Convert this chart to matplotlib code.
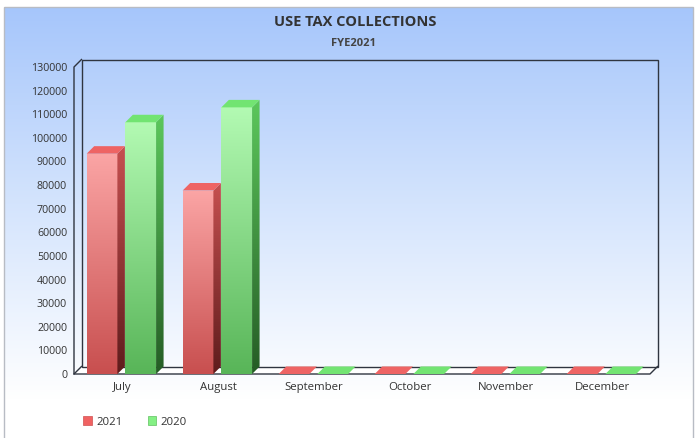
import numpy as np
import matplotlib.pyplot as plt
from matplotlib.patches import Polygon, Patch, Rectangle
from matplotlib.colors import LinearSegmentedColormap

months = ["July", "August", "September", "October", "November", "December"]
fy2021 = [93300, 77700, 0, 0, 0, 0]
fy2020 = [106600, 112900, 0, 0, 0, 0]
yticks = list(range(0, 130001, 10000))

plt.rcParams['font.family'] = ['Open Sans', 'DejaVu Sans']

W, H = 696, 438
fig = plt.figure(figsize=(W / 100, H / 100), dpi=100)

# background panel with blue -> white gradient
bg = fig.add_axes([0, 0, 1, 1], zorder=-10)
bg.set_xlim(0, W)
bg.set_ylim(H, 0)
bg.axis('off')
bgmap = LinearSegmentedColormap.from_list('bg', ['#a6c6fb', '#d4e4fd', '#ffffff'])
g = np.linspace(0, 1, 256)[:, None]
panel = Rectangle((4, 7), 689, 440, facecolor='none', edgecolor='#b8bcc4', lw=1)
bg.add_patch(panel)
im = bg.imshow(g, extent=[4, 693, 400, 7], cmap=bgmap, aspect='auto')
im.set_clip_path(panel)

fig.text(355 / W, 1 - 22 / H, "USE TAX COLLECTIONS", ha='center', va='center',
         fontsize=10.5, fontweight='bold', color='#333333')
fig.text(354 / W, 1 - 43 / H, "FYE2021", ha='center', va='center',
         fontsize=8, fontweight='bold', color='#444444')

ax = fig.add_axes([74 / W, (H - 374) / H, 576 / W, 307 / H])
ax.patch.set_alpha(0)
for s in ax.spines.values():
    s.set_visible(False)

ymax = 130000
dx = 7.5 / 96
dy = 7.5 * ymax / 307
x = np.arange(len(months))
lc = '#2f3540'

# floor + walls
ax.add_patch(Polygon([(-0.5, 0), (5.5, 0), (5.5 + dx, dy), (-0.5 + dx, dy)],
                     closed=True, facecolor='white', edgecolor='none', zorder=1, clip_on=False))
ax.add_patch(Polygon([(-0.5 + dx, dy), (5.5 + dx, dy), (5.5 + dx, ymax + dy), (-0.5 + dx, ymax + dy)],
                     closed=True, facecolor='none', edgecolor=lc, lw=1, zorder=2, clip_on=False))
ax.plot([-0.5 + dx, -0.5, -0.5, 5.5, 5.5 + dx], [ymax + dy, ymax, 0, 0, dy],
        color=lc, lw=1, zorder=2, clip_on=False)
ax.plot([-0.5, -0.5 + dx], [0, dy], color=lc, lw=1, zorder=2, clip_on=False)

series = [
    (fy2021, -0.208, ['#c84f4f', '#fba5a5'], ['#5e1c1c', '#c65050'], '#ee6464'),
    (fy2020, 0.195, ['#58b558', '#b3fab3'], ['#255c25', '#5cc85c'], '#72e472'),
]
width = 0.32

for vals, off, front_c, side_c, top_c in series:
    bars = ax.bar(x + off, vals, width, facecolor='none', edgecolor='none', zorder=3)
    fmap = LinearSegmentedColormap.from_list('f', front_c)
    smap = LinearSegmentedColormap.from_list('s', side_c)
    for r in bars:
        x0, w, h = r.get_x(), r.get_width(), r.get_height()
        if h > 0:
            fi = ax.imshow(g, extent=[x0, x0 + w, 0, h], origin='lower', cmap=fmap,
                           aspect='auto', zorder=3)
            fi.set_clip_path(r)
            side = Polygon([(x0 + w, 0), (x0 + w + dx, dy), (x0 + w + dx, h + dy), (x0 + w, h)],
                           closed=True, facecolor='none', edgecolor='none', zorder=3)
            ax.add_patch(side)
            si = ax.imshow(g, extent=[x0 + w, x0 + w + dx, 0, h + dy], origin='lower', cmap=smap,
                           aspect='auto', zorder=3)
            si.set_clip_path(side)
        ax.add_patch(Polygon([(x0, h), (x0 + w, h), (x0 + w + dx, h + dy), (x0 + dx, h + dy)],
                             closed=True, facecolor=top_c, edgecolor='none', zorder=4, clip_on=False))

ax.set_xlim(-0.5, 5.5)
ax.set_ylim(0, ymax)
ax.set_yticks(yticks)
ax.set_yticklabels([str(t) for t in yticks])
ax.set_xticks(x)
ax.set_xticklabels(months)
ax.tick_params(axis='y', length=0, pad=5, labelsize=7.7, labelcolor='#333333')
ax.tick_params(axis='x', length=0, pad=5.5, labelsize=8.2, labelcolor='#333333')

handles = [Patch(facecolor='#f06262', edgecolor='#d05050', lw=0.5, label='2021'),
           Patch(facecolor='#84f084', edgecolor='#60c060', lw=0.5, label='2020')]
fig.legend(handles=handles, loc='center left', bbox_to_anchor=(73 / W, 1 - 422 / H),
           ncol=2, frameon=False, fontsize=8.2, handlelength=0.75, handleheight=0.75,
           handletextpad=0.4, columnspacing=2.2, labelcolor='#333333')

fig.savefig('out.png', dpi=100)
